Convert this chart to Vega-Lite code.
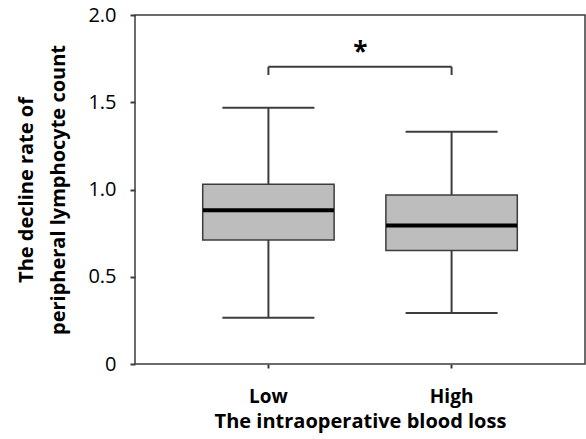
{
  "$schema": "https://vega.github.io/schema/vega-lite/v6.json",
  "width": 450,
  "height": 349,
  "autosize": "none",
  "padding": {"left": 135, "top": 15, "right": 1, "bottom": 75},
  "background": "white",
  "config": {
    "view": {"stroke": "#3c3c3c", "strokeWidth": 1.5},
    "font": "Open Sans",
    "axis": {"grid": false, "domain": false, "tickColor": "#3c3c3c", "labelColor": "black", "titleColor": "black", "labelFont": "Open Sans", "titleFont": "Open Sans"}
  },
  "datasets": {
    "boxes": [
      {"group": "Low", "lower": 0.265, "q1": 0.711, "median": 0.881, "q3": 1.030, "upper": 1.469},
      {"group": "High", "lower": 0.292, "q1": 0.651, "median": 0.793, "q3": 0.968, "upper": 1.331}
    ],
    "bracket": [
      {"from": "Low", "to": "High", "top": 1.704, "bottom": 1.656, "label": "*", "star": 1.78}
    ]
  },
  "layer": [
    {
      "data": {"name": "boxes"},
      "mark": {"type": "rule", "color": "#3c3c3c", "strokeWidth": 2},
      "encoding": {
        "x": {
          "field": "group", "type": "nominal", "sort": ["Low", "High"],
          "scale": {"domain": ["Low", "High"], "paddingInner": 0.2826, "paddingOuter": 0.3696},
          "axis": {"title": "The intraoperative blood loss", "labelAngle": 0, "labelFontSize": 19, "labelFontWeight": "bold", "labelPadding": 19, "tickSize": 4, "tickWidth": 2, "titleFontSize": 20, "titleFontWeight": "bold", "titlePadding": 5}
        },
        "y": {
          "field": "lower", "type": "quantitative",
          "scale": {"domain": [0, 2], "nice": false, "zero": true},
          "axis": {"title": ["The decline rate of", "peripheral lymphocyte count"], "values": [0, 0.5, 1, 1.5, 2], "labelExpr": "datum.value == 0 ? '0' : format(datum.value, '.1f')", "labelFontSize": 20, "labelPadding": 14, "tickSize": 5, "tickWidth": 2, "titleFontSize": 20, "titleFontWeight": "bold", "titleLineHeight": 32, "titlePadding": 19}
        },
        "y2": {"field": "upper"}
      }
    },
    {
      "data": {"name": "boxes"},
      "mark": {"type": "bar", "fill": "#bdbdbd", "stroke": "#3c3c3c", "strokeWidth": 1.5},
      "encoding": {
        "x": {"field": "group", "type": "nominal", "sort": ["Low", "High"]},
        "y": {"field": "q1", "type": "quantitative"},
        "y2": {"field": "q3"}
      }
    },
    {
      "data": {"name": "boxes"},
      "mark": {"type": "tick", "color": "black", "thickness": 4, "size": 131, "opacity": 1},
      "encoding": {
        "x": {"field": "group", "type": "nominal", "sort": ["Low", "High"]},
        "y": {"field": "median", "type": "quantitative"}
      }
    },
    {
      "data": {"name": "boxes"},
      "mark": {"type": "tick", "color": "#3c3c3c", "thickness": 2, "size": 92, "opacity": 1},
      "encoding": {
        "x": {"field": "group", "type": "nominal", "sort": ["Low", "High"]},
        "y": {"field": "lower", "type": "quantitative"}
      }
    },
    {
      "data": {"name": "boxes"},
      "mark": {"type": "tick", "color": "#3c3c3c", "thickness": 2, "size": 92, "opacity": 1},
      "encoding": {
        "x": {"field": "group", "type": "nominal", "sort": ["Low", "High"]},
        "y": {"field": "upper", "type": "quantitative"}
      }
    },
    {
      "data": {"name": "bracket"},
      "mark": {"type": "rule", "color": "#3c3c3c", "strokeWidth": 2},
      "encoding": {
        "x": {"field": "from", "type": "nominal", "sort": ["Low", "High"]},
        "x2": {"field": "to"},
        "y": {"field": "top", "type": "quantitative"}
      }
    },
    {
      "data": {"name": "bracket"},
      "mark": {"type": "rule", "color": "#3c3c3c", "strokeWidth": 2},
      "encoding": {
        "x": {"field": "from", "type": "nominal", "sort": ["Low", "High"]},
        "y": {"field": "bottom", "type": "quantitative"},
        "y2": {"field": "top"}
      }
    },
    {
      "data": {"name": "bracket"},
      "mark": {"type": "rule", "color": "#3c3c3c", "strokeWidth": 2},
      "encoding": {
        "x": {"field": "to", "type": "nominal", "sort": ["Low", "High"]},
        "y": {"field": "bottom", "type": "quantitative"},
        "y2": {"field": "top"}
      }
    },
    {
      "data": {"name": "bracket"},
      "mark": {"type": "text", "fontSize": 26, "fontWeight": "bold", "baseline": "middle", "align": "center", "color": "black"},
      "encoding": {
        "x": {"field": "from", "type": "nominal", "sort": ["Low", "High"], "bandPosition": 1.2},
        "y": {"field": "star", "type": "quantitative"},
        "text": {"field": "label"}
      }
    }
  ]
}
